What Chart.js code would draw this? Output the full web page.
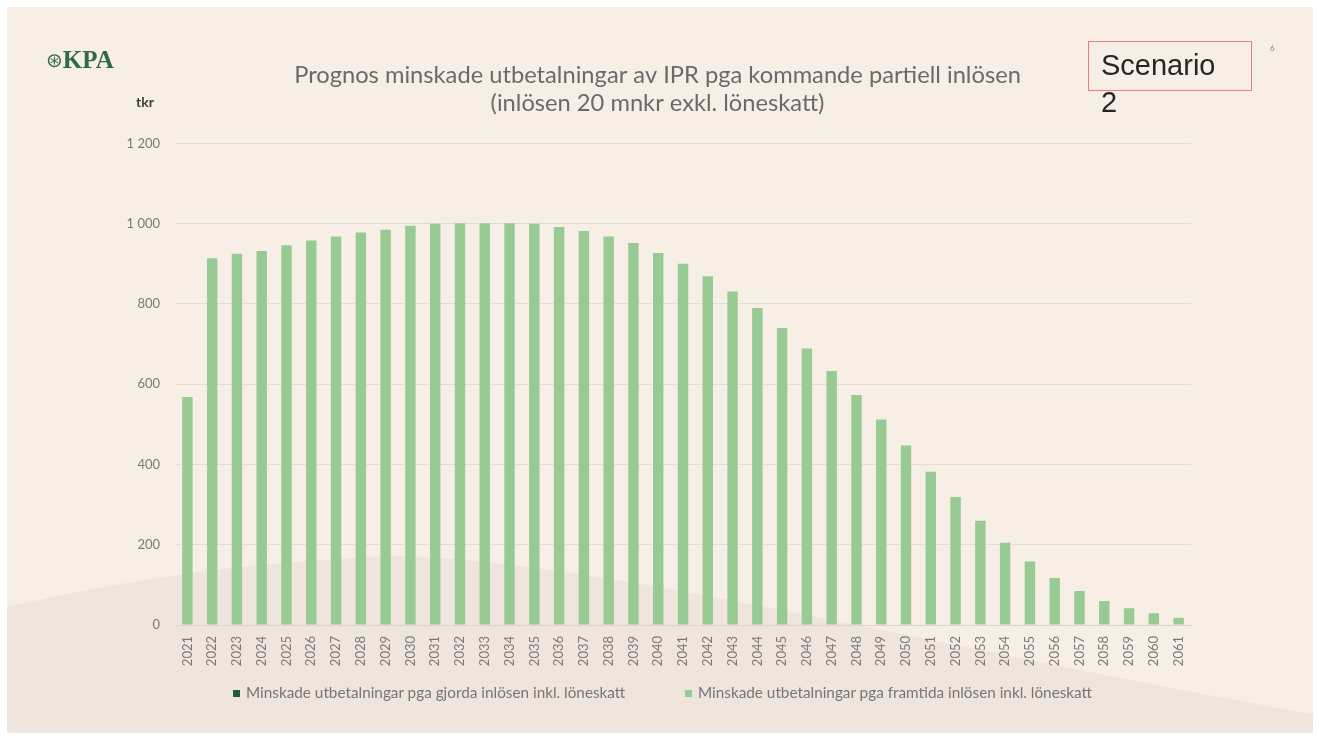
<!DOCTYPE html>
<html>
<head>
<meta charset="utf-8">
<script src="https://cdn.jsdelivr.net/npm/chart.js@4"></script>
<style>
    html, body { margin: 0; padding: 0; background: #ffffff; }
    #wrap { position: relative; width: 1319px; height: 740px; }
    .logo { position: absolute; left: 46px; top: 46px; height: 28px; line-height: 28px; color: #2f6b47; font-family: 'Liberation Serif', serif; font-size: 25px; font-weight: bold; }
    .logo span { font-family: 'DejaVu Sans', sans-serif; font-size: 20px; font-weight: normal; margin-right: 0px; vertical-align: top; }
    .tkr { position: absolute; left: 136px; top: 93px; color: #404040; font-family: Lato, sans-serif; font-size: 14px; font-weight: bold; }
    .scenario { position: absolute; left: 1088px; top: 41px; width: 162px; height: 48px; border: 1.5px solid #e77f7f; }
    .scenario div { position: absolute; left: 12px; top: 5px; font-family: 'Liberation Sans', Arial, sans-serif; font-size: 29px; line-height: 37px; color: #262626; white-space: nowrap; }
    .pagenr { position: absolute; left: 1270px; top: 43px; font-family: Lato, sans-serif; font-size: 8px; color: #5e9e6e; }
    .legend-item { position: absolute; top: 683px; font-family: Lato, sans-serif; font-size: 15.3px; color: #767676; white-space: nowrap; }
    .legend-item i { display: inline-block; width: 7px; height: 7px; margin-right: 6px; vertical-align: 1px; }
</style>
</head>
<body>
<div id="wrap">
    <canvas id="barChart" width="1319" height="740"></canvas>
    <div class="logo"><span>⊛</span>KPA</div>
    <div class="tkr">tkr</div>
    <div class="scenario"><div>Scenario<br>2</div></div>
    <div class="pagenr">6</div>
    <div id="legend"></div>
</div>
<script>
// år
const years = ['2021', '2022', '2023', '2024', '2025', '2026', '2027', '2028', '2029', '2030',
    '2031', '2032', '2033', '2034', '2035', '2036', '2037', '2038', '2039', '2040',
    '2041', '2042', '2043', '2044', '2045', '2046', '2047', '2048', '2049', '2050',
    '2051', '2052', '2053', '2054', '2055', '2056', '2057', '2058', '2059', '2060', '2061'];

// gjorda inlösen (syns inte i diagrammet)
const gjordaInlosen = [0, 0, 0, 0, 0, 0, 0, 0, 0, 0,
    0, 0, 0, 0, 0, 0, 0, 0, 0, 0,
    0, 0, 0, 0, 0, 0, 0, 0, 0, 0,
    0, 0, 0, 0, 0, 0, 0, 0, 0, 0, 0];

// framtida inlösen, tkr
const framtidaInlosen = [568, 914, 925, 932, 946, 958, 968, 978, 985, 995,
    1000, 1001, 1001, 1001, 1000, 992, 982, 968, 952, 927,
    900, 869, 831, 790, 740, 689, 633, 573, 512, 447,
    382, 319, 260, 205, 158, 117, 85, 60, 42, 29, 18];

const yTicks = [0, 200, 400, 600, 800, 1000, 1200];

const seriesNames = [
    'Minskade utbetalningar pga gjorda inlösen inkl. löneskatt',
    'Minskade utbetalningar pga framtida inlösen inkl. löneskatt'
];
const seriesColors = ['#1f5c38', '#98ca94'];

// bakgrund: vit ram, beige yta och mörkare våg nedtill
const backgroundPlugin = {
    id: 'slideBackground',
    beforeDraw(chart) {
        const c = chart.ctx;
        c.save();
        c.fillStyle = '#ffffff';
        c.fillRect(0, 0, chart.width, chart.height);
        c.fillStyle = '#f7eee5';
        c.fillRect(7, 7, 1306, 726);
        c.beginPath();
        c.moveTo(7, 607);
        c.quadraticCurveTo(200, 562, 395, 556);
        c.bezierCurveTo(600, 560, 950, 650, 1313, 714);
        c.lineTo(1313, 733);
        c.lineTo(7, 733);
        c.closePath();
        c.fillStyle = '#efe5dc';
        c.fill();
        c.restore();
    }
};

// legend under diagrammet
function buildLegend() {
    const lefts = [233, 685];
    const el = document.getElementById('legend');
    seriesNames.forEach((name, i) => {
        const item = document.createElement('div');
        item.className = 'legend-item';
        item.style.left = lefts[i] + 'px';
        item.innerHTML = '<i style="background:' + seriesColors[i] + '"></i>' + name;
        el.appendChild(item);
    });
}

function initBarChart() {
    const ctx = document.getElementById('barChart').getContext('2d');
    new Chart(ctx, {
        type: 'bar',
        data: {
            labels: years,
            datasets: [{
                label: seriesNames[0],
                data: gjordaInlosen,
                backgroundColor: seriesColors[0]
            }, {
                label: seriesNames[1],
                data: framtidaInlosen,
                backgroundColor: seriesColors[1]
            }]
        },
        options: {
            responsive: false,
            animation: false,
            layout: {
                padding: { left: 124, right: 128, top: 0, bottom: 63 }
            },
            datasets: {
                bar: { barPercentage: 0.42, categoryPercentage: 1 }
            },
            plugins: {
                title: {
                    display: true,
                    text: ['Prognos minskade utbetalningar av IPR pga kommande partiell inlösen',
                        '(inlösen 20 mnkr exkl. löneskatt)'],
                    color: '#6a6a6a',
                    font: { family: 'Lato', size: 23.7, weight: 'normal', lineHeight: 1.19 },
                    padding: { top: 61, bottom: 26 }
                },
                legend: { display: false },
                tooltip: { enabled: false }
            },
            scales: {
                x: {
                    stacked: true,
                    grid: { display: false },
                    border: { color: '#ddd6cf' },
                    ticks: {
                        minRotation: 90,
                        maxRotation: 90,
                        autoSkip: false,
                        padding: 3,
                        color: '#7a7a7a',
                        font: { family: 'Lato', size: 13 }
                    },
                    afterFit(scale) { scale.height = 52; }
                },
                y: {
                    stacked: true,
                    min: 0,
                    max: 1200,
                    afterBuildTicks(scale) { scale.ticks = yTicks.map(v => ({ value: v })); },
                    grid: { color: '#e4ddd6', drawTicks: false },
                    border: { display: false },
                    ticks: {
                        padding: 15,
                        color: '#7a7a7a',
                        font: { family: 'Lato', size: 13 },
                        callback: v => String(v).replace(/\B(?=(\d{3})+(?!\d))/g, ' ')
                    },
                    afterFit(scale) { scale.width = 51; }
                }
            }
        },
        plugins: [backgroundPlugin]
    });
}

document.addEventListener('DOMContentLoaded', function() {
    buildLegend();
    initBarChart();
});
</script>
</body>
</html>
